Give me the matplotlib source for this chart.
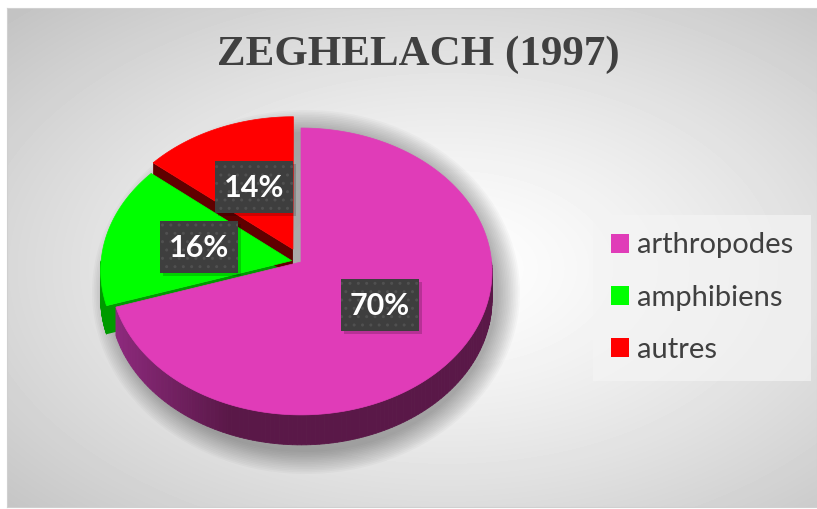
import numpy as np
import matplotlib.pyplot as plt
from matplotlib.patches import Polygon, Ellipse, Rectangle, Patch
from matplotlib.colors import to_rgb

labels = ['arthropodes', 'amphibiens', 'autres']
values = [70, 16, 14]
pct_labels = ['70%', '16%', '14%']
colors = ['#e03cb8', '#00ff00', '#ff0000']
side_dark = ['#5a1848', '#009a00', '#600000']
side_light = ['#8e2a7e', '#009a00', '#600000']
explode = [0.0, 0.05, 0.10]
title = 'ZEGHELACH (1997)'

W, H = 817, 509
fig = plt.figure(figsize=(W / 100, H / 100), dpi=100)
fig.patch.set_facecolor('white')

# fond : degrade radial blanc -> gris
bg = fig.add_axes([7 / W, 2 / H, 810 / W, 499 / H])
yy, xx = np.mgrid[0:499, 0:810]
r = np.sqrt(((xx - 440) / 440) ** 2 + ((yy - 260) / 260) ** 2) / np.sqrt(2)
bg.imshow(1 - 0.24 * r ** 1.3, cmap='gray', vmin=0, vmax=1, aspect='auto')
bg.set_xticks([])
bg.set_yticks([])
for s in bg.spines.values():
    s.set_color('#d0d0d0')
    s.set_linewidth(0.8)

# axe en pixels
ax = fig.add_axes([0, 0, 1, 1])
ax.patch.set_alpha(0)
ax.set_xlim(0, W)
ax.set_ylim(H, 0)
ax.axis('off')

# camembert 3D en perspective
CX, CY, RX, RY, K, DEPTH = 301, 262, 190.6, 142.8, 0.066, 28


def proj(u, v, z=0.0):
    s = 1 / (1 + K * v)
    return CX + RX * u * s, CY - RY * v * s + DEPTH * z * s


frac = np.array(values) / sum(values)
cum = np.concatenate([[0], np.cumsum(frac)])
t2 = 90 - 360 * cum[:-1]
t1 = 90 - 360 * cum[1:]
mid = np.radians((t1 + t2) / 2)
offs = [(e * np.cos(m), e * np.sin(m)) for e, m in zip(explode, mid)]

# ombre portee
for k in range(14):
    g = 24 - k * 1.7
    ax.add_patch(Ellipse((306, 292), 2 * (190 + g), 2 * (158 + g),
                         color='black', alpha=0.022, lw=0, zorder=1))

# faces coupees
for i in range(len(values)):
    ox, oy = offs[i]
    for th, n in [(t1[i], t1[i] - 90), (t2[i], t2[i] + 90)]:
        if np.sin(np.radians(n)) < -0.05:
            a = np.radians(th)
            ru, rv = ox + np.cos(a), oy + np.sin(a)
            pts = [proj(ox, oy), proj(ru, rv), proj(ru, rv, 1), proj(ox, oy, 1)]
            ax.add_patch(Polygon(pts, closed=True, color=side_dark[i], lw=0, zorder=2))

# parois exterieures
for i in range(len(values)):
    ox, oy = offs[i]
    angs = np.radians(np.linspace(t1[i], t2[i], 200))
    dk, lt = np.array(to_rgb(side_dark[i])), np.array(to_rgb(side_light[i]))
    for a, b in zip(angs[:-1], angs[1:]):
        m = (a + b) / 2
        if np.sin(m) >= 0:
            continue
        t = np.clip((np.cos(m) + 0.95) / 0.6, 0, 1)
        c = lt + (dk - lt) * t
        pa = (ox + np.cos(a), oy + np.sin(a))
        pb = (ox + np.cos(b), oy + np.sin(b))
        pts = [proj(*pa), proj(*pb), proj(*pb, 1), proj(*pa, 1)]
        ax.add_patch(Polygon(pts, closed=True, facecolor=c, edgecolor=c, lw=0.6, zorder=3))

# dessus des parts
for i in range(len(values)):
    ox, oy = offs[i]
    angs = np.radians(np.linspace(t1[i], t2[i], 300))
    pts = [proj(ox, oy)] + [proj(ox + np.cos(a), oy + np.sin(a)) for a in angs]
    ax.add_patch(Polygon(pts, closed=True, facecolor=colors[i], edgecolor=colors[i],
                         lw=0.5, zorder=5))

# etiquettes
bw, bh = 78, 52
for i in range(len(values)):
    ox, oy = offs[i]
    x, y = proj(ox + 0.5 * np.cos(mid[i]), oy + 0.5 * np.sin(mid[i]))
    ax.add_patch(Rectangle((x - bw / 2 + 3, y - bh / 2 + 3), bw, bh, color='black',
                           alpha=0.18, lw=0, zorder=6))
    ax.add_patch(Rectangle((x - bw / 2, y - bh / 2), bw, bh, facecolor='#3e3e3e',
                           edgecolor='#505050', hatch='..', lw=0, zorder=7))
    ax.text(x, y + 1, pct_labels[i], ha='center', va='center', fontsize=22,
            fontweight='bold', family='Lato', color='white', zorder=8)

handles = [Patch(facecolor=c, edgecolor='none') for c in colors]
ax.legend(handles, labels, loc='upper left', bbox_to_anchor=(593 / W, 1 - 215 / H),
          bbox_transform=fig.transFigure, prop=dict(family='Lato', size=21),
          frameon=True, facecolor='#f4f4f4', edgecolor='none', framealpha=0.7,
          fancybox=False, handlelength=0.62, handleheight=0.62,
          handletextpad=0.3, labelspacing=0.9, borderpad=0.6, borderaxespad=0,
          labelcolor='#404040')

fig.text(418 / W, 1 - 55 / H, title, ha='center', va='center', fontsize=31,
         fontweight='bold', family='Liberation Serif', color='#404040')

fig.savefig('out.png', dpi=100)
